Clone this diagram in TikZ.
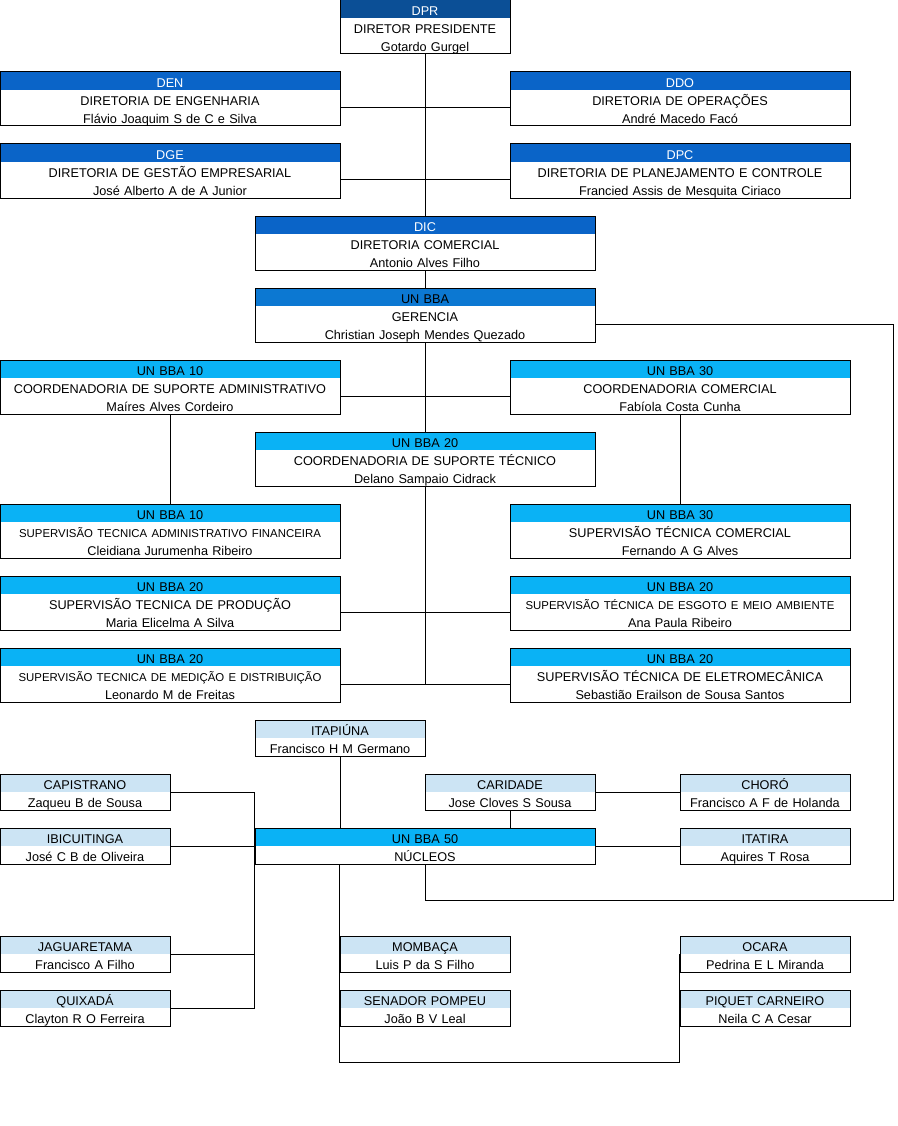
\documentclass[tikz,border=0pt]{standalone}
\usepackage{fontspec}
\setmainfont{Liberation Sans}
\usetikzlibrary{calc,positioning}
\definecolor{dprblue}{RGB}{11,79,150}
\definecolor{dirblue}{RGB}{10,100,200}
\definecolor{gerblue}{RGB}{12,120,210}
\definecolor{unblue}{RGB}{10,178,245}
\definecolor{nucblue}{RGB}{204,228,244}
\newcommand{\hw}[1]{\textcolor{white}{#1}}
\newcommand{\sm}[1]{{\fontsize{11.4}{18}\selectfont #1}}

\begin{document}
\begin{tikzpicture}[x=1pt,y=-1pt,line width=1pt,
  hdr/.style={path picture={\fill[#1] (path picture bounding box.north west) rectangle ([yshift=-18pt]path picture bounding box.north east);}},
  box/.style={draw,fill=white,inner sep=0pt,align=center,text height=15.5pt,
    font=\fontsize{12.7}{18}\selectfont},
  big/.style={box,text width=340pt,text depth=38.5pt,hdr=#1},
  small/.style={box,text width=170pt,text depth=20.5pt,hdr=#1}]
  \useasboundingbox (0,0) rectangle (897,1126);

  \node[big=dprblue,text width=170pt] (dpr) at (425,27) {\hw{DPR}\\DIRETOR PRESIDENTE\\Gotardo Gurgel};
  \node[big=dirblue] (den) at (170,99) {\hw{DEN}\\DIRETORIA DE ENGENHARIA\\Flávio Joaquim S de C e Silva};
  \node[big=dirblue] (ddo) at (680,99) {\hw{DDO}\\DIRETORIA DE OPERAÇÕES\\André Macedo Facó};
  \node[big=dirblue] (dge) at (170,171) {\hw{DGE}\\DIRETORIA DE GESTÃO EMPRESARIAL\\José Alberto A de A Junior};
  \node[big=dirblue] (dpc) at (680,171) {\hw{DPC}\\DIRETORIA DE PLANEJAMENTO E CONTROLE\\Francied Assis de Mesquita Ciriaco};
  \node[big=dirblue] (dic) at (425,243) {\hw{DIC}\\DIRETORIA COMERCIAL\\Antonio Alves Filho};
  \node[big=gerblue] (ger) at (425,315) {UN BBA\\GERENCIA\\Christian Joseph Mendes Quezado};
  \node[big=unblue] (cadm) at (170,387) {UN BBA 10\\COORDENADORIA DE SUPORTE ADMINISTRATIVO\\Maíres Alves Cordeiro};
  \node[big=unblue] (ccom) at (680,387) {UN BBA 30\\COORDENADORIA COMERCIAL\\Fabíola Costa Cunha};
  \node[big=unblue] (ctec) at (425,459) {UN BBA 20\\COORDENADORIA DE SUPORTE TÉCNICO\\Delano Sampaio Cidrack};
  \node[big=unblue] (sadm) at (170,531) {UN BBA 10\\\sm{SUPERVISÃO TECNICA ADMINISTRATIVO FINANCEIRA}\\Cleidiana Jurumenha Ribeiro};
  \node[big=unblue] (scom) at (680,531) {UN BBA 30\\SUPERVISÃO TÉCNICA COMERCIAL\\Fernando A G Alves};
  \node[big=unblue] (sprod) at (170,603) {UN BBA 20\\SUPERVISÃO TECNICA DE PRODUÇÃO\\Maria Elicelma A Silva};
  \node[big=unblue] (sesg) at (680,603) {UN BBA 20\\\sm{SUPERVISÃO TÉCNICA DE ESGOTO E MEIO AMBIENTE}\\Ana Paula Ribeiro};
  \node[big=unblue] (smed) at (170,675) {UN BBA 20\\\sm{SUPERVISÃO TECNICA DE MEDIÇÃO E DISTRIBUIÇÃO}\\Leonardo M de Freitas};
  \node[big=unblue] (selet) at (680,675) {UN BBA 20\\SUPERVISÃO TÉCNICA DE ELETROMECÂNICA\\Sebastião Erailson de Sousa Santos};

  \node[small=nucblue] (itapiuna) at (340,738) {ITAPIÚNA\\Francisco H M Germano};
  \node[small=nucblue] (capistrano) at (85,792) {CAPISTRANO\\Zaqueu B de Sousa};
  \node[small=nucblue] (caridade) at (510,792) {CARIDADE\\Jose Cloves S Sousa};
  \node[small=nucblue] (choro) at (765,792) {CHORÓ\\Francisco A F de Holanda};
  \node[small=nucblue] (ibicuitinga) at (85,846) {IBICUITINGA\\José C B de Oliveira};
  \node[small=unblue,text width=340pt] (nucleos) at (425,846) {UN BBA 50\\NÚCLEOS};
  \node[small=nucblue] (itatira) at (765,846) {ITATIRA\\Aquires T Rosa};
  \node[small=nucblue] (jaguaretama) at (85,954) {JAGUARETAMA\\Francisco A Filho};
  \node[small=nucblue] (mombaca) at (425,954) {MOMBAÇA\\Luis P da S Filho};
  \node[small=nucblue] (ocara) at (765,954) {OCARA\\Pedrina E L Miranda};
  \node[small=nucblue] (quixada) at (85,1008) {QUIXADÁ\\Clayton R O Ferreira};
  \node[small=nucblue] (senador) at (425,1008) {SENADOR POMPEU\\João B V Leal};
  \node[small=nucblue] (piquet) at (765,1008) {PIQUET CARNEIRO\\Neila C A Cesar};

  \coordinate (loop) at (893,900);
  \coordinate (base) at (510,1062);
  \coordinate (mjoin) at ([yshift=-9pt]smed.east);

  \draw (dpr.south) -- (dic.north);
  \draw ([yshift=-9pt]den.east) -- ([yshift=-9pt]ddo.west);
  \draw ([yshift=-9pt]dge.east) -- ([yshift=-9pt]dpc.west);
  \draw (dic.south) -- (ger.north);
  \draw (ger.south) -- (ctec.north);
  \draw ([yshift=-9pt]cadm.east) -- ([yshift=-9pt]ccom.west);
  \draw (cadm.south) -- (sadm.north);
  \draw (ccom.south) -- (scom.north);
  \draw ([yshift=-9pt]sprod.east) -- ([yshift=-9pt]sesg.west);
  \draw (mjoin) -- ([yshift=-9pt]selet.west);
  \draw (ctec.south) -- (ctec.south |- mjoin);
  \draw ([yshift=-9pt]ger.east) -| (loop) -| (nucleos.south);

  \draw (itapiuna.south) -- (itapiuna.south |- nucleos.north);
  \draw (caridade.south) -- (caridade.south |- nucleos.north);
  \draw (caridade.east) -- (choro.west);
  \draw (nucleos.east) -- (itatira.west);
  \draw (capistrano.east) -- (capistrano.east -| nucleos.west) -- (quixada.east -| nucleos.west) -- (quixada.east);
  \draw (ibicuitinga.east) -- (nucleos.west);
  \draw (jaguaretama.east) -- (jaguaretama.east -| nucleos.west);
  \draw (mombaca.west |- nucleos.south) |- (base) -| (ocara.west);
\end{tikzpicture}
\end{document}
